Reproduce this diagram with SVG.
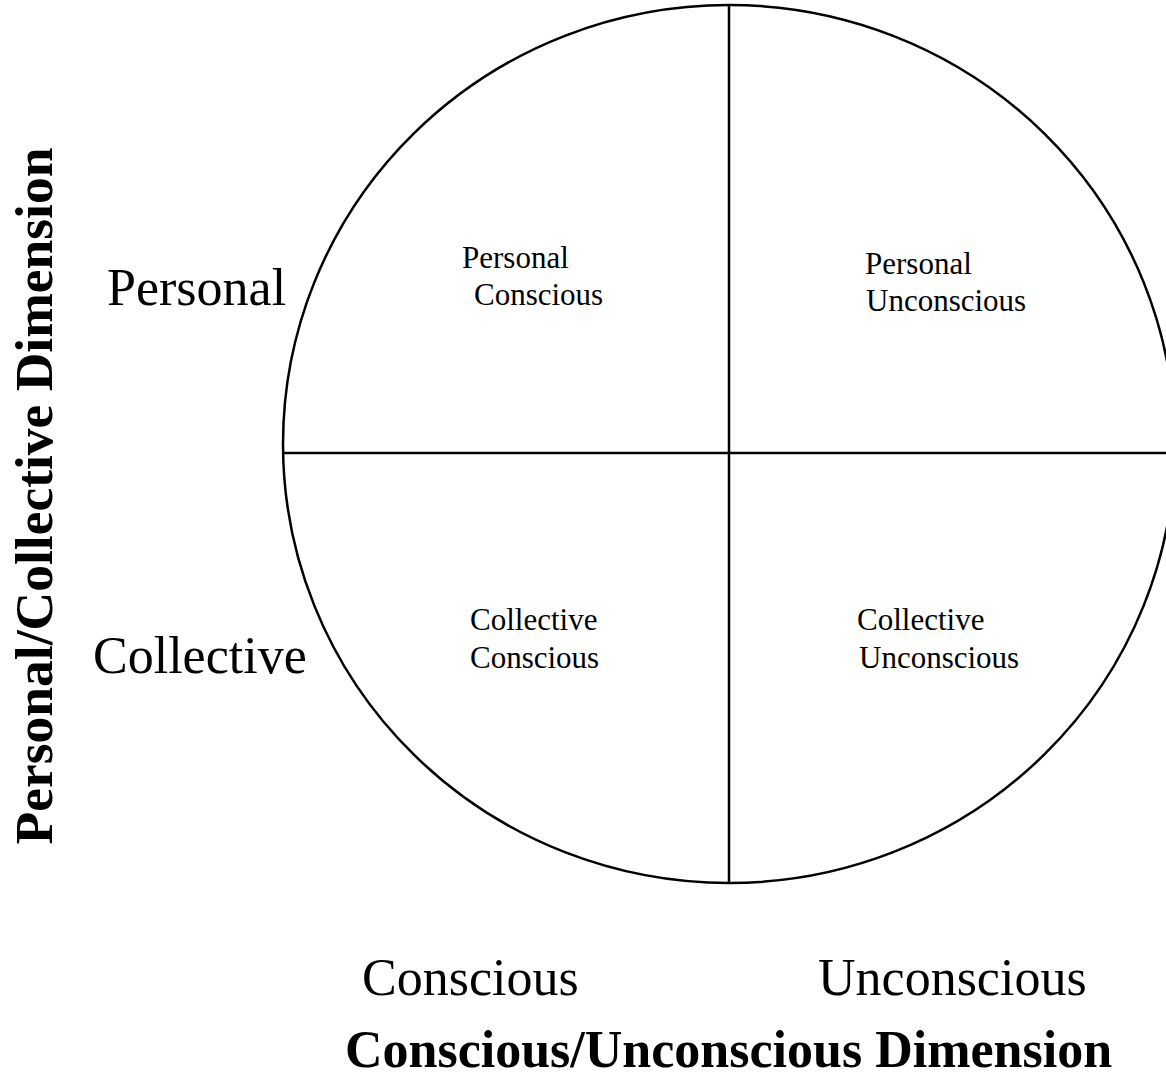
<svg xmlns="http://www.w3.org/2000/svg" width="1166" height="1079" viewBox="0 0 1166 1079">
<style>
.ln{stroke:#000;stroke-width:2.5;fill:none}
.t{font-family:"Liberation Serif","Times New Roman",serif;fill:#000}
.big{font-size:52px}
.sm{font-size:31px}
.b{font-size:52px;font-weight:bold}
.bv{font-size:53.5px;font-weight:bold}
</style>
<rect width="1166" height="1079" fill="#fff"/>
<g id="circle"><ellipse class="ln" cx="729" cy="444" rx="446" ry="439"/></g>
<g id="connectors">
<line class="ln" x1="729" y1="6" x2="729" y2="884"/>
<line class="ln" x1="283" y1="453" x2="1166" y2="453"/>
</g>
<g id="q-pc"><text class="t sm" x="462" y="268">Personal</text><text class="t sm" x="474" y="305">Conscious</text></g>
<g id="q-pu"><text class="t sm" x="865" y="274">Personal</text><text class="t sm" x="866" y="311">Unconscious</text></g>
<g id="q-cc"><text class="t sm" x="470" y="630">Collective</text><text class="t sm" x="470" y="668">Conscious</text></g>
<g id="q-cu"><text class="t sm" x="857" y="630">Collective</text><text class="t sm" x="859" y="668">Unconscious</text></g>
<g id="labels">
<text class="t big" x="107" y="305">Personal</text>
<text class="t big" x="93" y="673">Collective</text>
<text class="t big" x="362" y="995">Conscious</text>
<text class="t big" x="818" y="995">Unconscious</text>
<text class="t b" x="728.5" y="1067" text-anchor="middle">Conscious/Unconscious Dimension</text>
<text class="t bv" transform="translate(52,496) rotate(-90)" text-anchor="middle">Personal/Collective Dimension</text>
</g>
</svg>
